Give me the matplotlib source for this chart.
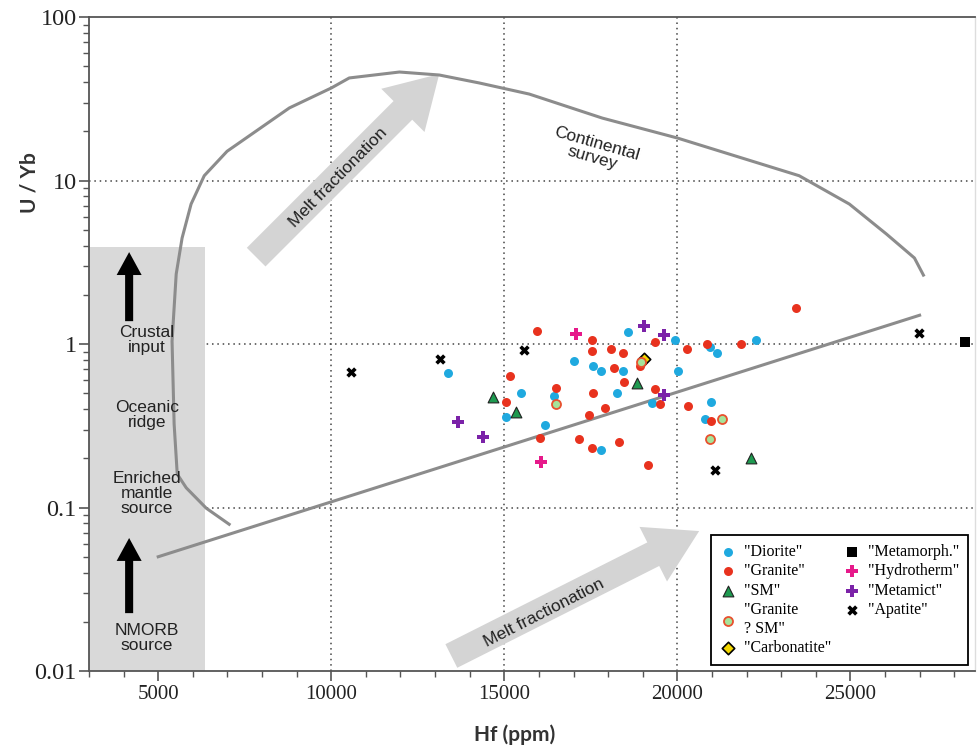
import numpy as np
import matplotlib
matplotlib.use('Agg')
import matplotlib.pyplot as plt
from matplotlib.ticker import MultipleLocator, LogLocator, NullFormatter, FixedLocator

# zircon groups, Hf (ppm) vs U/Yb
diorite_hf = [13380, 15490, 15060, 16190, 17020, 17570, 17800, 16450, 18270, 17780,
              18560, 18440, 19940, 20950, 21160, 22260, 20030, 19280, 20980, 20810]
diorite_u = [0.665, 0.501, 0.358, 0.320, 0.787, 0.734, 0.684, 0.481, 0.501, 0.225,
             1.184, 0.684, 1.058, 0.959, 0.881, 1.058, 0.684, 0.436, 0.442, 0.348]

granite_hf = [15950, 15170, 15060, 16040, 17520, 17520, 18090, 18180, 16500, 17570,
              17920, 17460, 17170, 17520, 18300, 18440, 19360, 20290, 20870, 21850,
              23440, 18930, 18470, 19340, 19510, 19160, 20320, 20980]
granite_u = [1.201, 0.637, 0.442, 0.266, 1.058, 0.906, 0.932, 0.713, 0.538, 0.501,
             0.406, 0.368, 0.262, 0.231, 0.252, 0.881, 1.028, 0.932, 1.0, 1.0,
             1.66, 0.734, 0.586, 0.531, 0.430, 0.182, 0.418, 0.338]

sm_hf = [14680, 15350, 18840, 22140]
sm_u = [0.474, 0.384, 0.577, 0.201]

gsm_hf = [16500, 18960, 21300, 20930]
gsm_u = [0.430, 0.776, 0.348, 0.262]

carb_hf = [19050]
carb_u = [0.810]

meta_hf = [28320]
meta_u = [1.03]

hydro_hf = [17080, 16070]
hydro_u = [1.151, 0.190]

metamict_hf = [13670, 14390, 19050, 19600, 19600]
metamict_u = [0.333, 0.270, 1.288, 1.135, 0.488]

apatite_hf = [10580, 13150, 15580, 21100, 26970]
apatite_u = [0.674, 0.810, 0.919, 0.170, 1.168]

# continental survey envelope
cs_hf = [7050, 6390, 5810, 5550, 5460, 5400, 5520, 5690, 5950, 6330, 6990, 8790, 10000,
         10520, 11970, 13120, 14280, 15720, 17830, 20000, 23520, 24970, 26040, 26850, 27110]
cs_u = [0.079, 0.099, 0.132, 0.160, 0.324, 1.04, 2.68, 4.45, 7.18, 10.7, 15.1, 27.8, 36.8,
        42.4, 46.1, 44.2, 39.5, 33.8, 24.1, 18.2, 10.7, 7.18, 4.71, 3.36, 2.64]

# straight trend line
trend_hf = [5000, 27000]
trend_u = [0.05, 1.5]

fig = plt.figure(figsize=(9.79, 7.47), dpi=100)
ax = fig.add_axes([0.0909, 0.1017, 0.905, 0.8755])
ax.set_yscale('log')
ax.set_xlim(3000, 28600)
ax.set_ylim(0.01, 100)

dark = '#555555'
curve_col = '#8c8c8c'
arrow_col = '#d4d4d4'

#dotted grid
for gx in [10000, 15000, 20000]:
    ax.axvline(gx, color='#444444', linestyle=(0, (1, 2.5)), linewidth=1.1, zorder=0)
for gy in [0.1, 1, 10]:
    ax.axhline(gy, color='#444444', linestyle=(0, (1, 2.5)), linewidth=1.1, zorder=0)

#gray source box
ax.fill_between([3000, 6360], 0.01, 3.9, color='#d9d9d9', linewidth=0, zorder=1)

ax.plot(cs_hf, cs_u, color=curve_col, linewidth=2.2, zorder=3)
ax.plot(trend_hf, trend_u, color=curve_col, linewidth=2.2, zorder=3)

#big melt fractionation arrows
big = dict(arrowstyle='simple,head_length=37,head_width=44,tail_width=19',
           color=arrow_col, mutation_scale=1, shrinkA=0, shrinkB=0, linewidth=0)
ax.annotate('', xy=(13120, 44.8), xytext=(7830, 3.40), arrowprops=big, zorder=2)
ax.annotate('', xy=(20630, 0.0718), xytext=(13470, 0.01236), arrowprops=big, zorder=2)

ax.text(10200, 10.36, 'Melt fractionation', rotation=45.5, ha='center', va='center',
        fontsize=12.5, family='Liberation Sans', color='#222222', zorder=5)
ax.text(16160, 0.0226, 'Melt fractionation', rotation=27, ha='center', va='center',
        fontsize=12.5, family='Liberation Sans', color='#222222', zorder=5)
ax.text(17600, 15.15, 'Continental\nsurvey', rotation=-16, ha='center', va='center',
        fontsize=12.5, family='Liberation Sans', color='#222222', linespacing=1.0, zorder=5)

#small black arrows in the box
small = dict(arrowstyle='simple,head_length=16.5,head_width=18,tail_width=5.8',
             color='black', mutation_scale=1, shrinkA=0, shrinkB=0, linewidth=0)
ax.annotate('', xy=(4160, 3.65), xytext=(4160, 1.38), arrowprops=small, zorder=4)
ax.annotate('', xy=(4160, 0.0651), xytext=(4160, 0.0226), arrowprops=small, zorder=4)

box_txt = dict(ha='center', va='center', fontsize=12.5, family='Liberation Sans',
               color='#222222', linespacing=1.0, zorder=5)
ax.text(4680, 1.058, 'Crustal\ninput', **box_txt)
ax.text(4680, 0.368, 'Oceanic\nridge', **box_txt)
ax.text(4680, 0.1227, 'Enriched\nmantle\nsource', **box_txt)
ax.text(4680, 0.0159, 'NMORB\nsource', **box_txt)

#scatter points
ax.scatter(diorite_hf, diorite_u, s=42, marker='o', color='#1fa9df', linewidths=0,
           label='"Diorite"', zorder=6)
ax.scatter(granite_hf, granite_u, s=42, marker='o', color='#e8321e', linewidths=0,
           label='"Granite"', zorder=6)
ax.scatter(sm_hf, sm_u, s=60, marker='^', facecolor='#1e9a50', edgecolor='#222222',
           linewidths=0.8, label='"SM"', zorder=6)
ax.scatter(carb_hf, carb_u, s=40, marker='D', facecolor='#f2d600', edgecolor='black',
           linewidths=1.2, label='"Carbonatite"', zorder=6)
ax.scatter(gsm_hf, gsm_u, s=42, marker='o', facecolor='#a6e39a', edgecolor='#e8502e',
           linewidths=1.3, label='"Granite\n? SM"', zorder=7)
ax.scatter(meta_hf, meta_u, s=55, marker='s', color='black', linewidths=0,
           label='"Metamorph."', zorder=6)
ax.scatter(hydro_hf, hydro_u, s=70, marker='P', color='#e6198a', linewidths=0,
           label='"Hydrotherm"', zorder=6)
ax.scatter(metamict_hf, metamict_u, s=70, marker='P', color='#7b22a8', linewidths=0,
           label='"Metamict"', zorder=6)
ax.scatter(apatite_hf, apatite_u, s=55, marker='X', color='black', linewidths=0,
           label='"Apatite"', zorder=6)

h, l = ax.get_legend_handles_labels()
order = [0, 1, 2, 4, 3, 5, 6, 7, 8]
leg = ax.legend([h[i] for i in order], [l[i] for i in order], ncol=2, loc='lower right',
                bbox_to_anchor=(0.992, 0.009), borderaxespad=0, fancybox=False,
                framealpha=1, edgecolor='black', prop={'family': 'Liberation Serif', 'size': 11.5},
                handletextpad=0.5, columnspacing=0.8, labelspacing=0.22, borderpad=0.55,
                handlelength=1.0)
leg.get_frame().set_linewidth(1.3)
leg.set_zorder(10)

#axes styling
for side in ['left', 'bottom', 'top']:
    ax.spines[side].set_color(dark)
    ax.spines[side].set_linewidth(1.3)
ax.spines['right'].set_color('#dddddd')
ax.spines['right'].set_linewidth(1.0)

ax.xaxis.set_major_locator(FixedLocator([5000, 10000, 15000, 20000, 25000]))
ax.xaxis.set_minor_locator(MultipleLocator(1000))
ax.yaxis.set_minor_locator(LogLocator(base=10, subs=np.arange(2, 10), numticks=10))
ax.yaxis.set_minor_formatter(NullFormatter())
ax.set_yticks([0.01, 0.1, 1, 10, 100])
ax.set_yticklabels(['0.01', '0.1', '1', '10', '100'])
ax.set_xticklabels(['5000', '10000', '15000', '20000', '25000'])

ax.tick_params(axis='both', which='major', direction='out', length=7, width=1.2,
               color=dark)
ax.tick_params(axis='both', which='minor', direction='out', length=4, width=1.0, color=dark)
ax.tick_params(axis='x', which='major', labelsize=15, pad=3)
ax.tick_params(axis='y', which='major', labelsize=17.5, pad=2)
for t in ax.get_xticklabels() + ax.get_yticklabels():
    t.set_family('Liberation Serif')
    t.set_color('#222222')

fig.text(515 / 979, 1 - 735 / 747, 'Hf (ppm)', ha='center', va='center', fontsize=15,
         family='Lato', weight='bold', color='#333333')
fig.text(30 / 979, 1 - 183 / 747, 'U / Yb', ha='center', va='center', rotation=90,
         fontsize=15, family='Lato', weight='bold', color='#333333')

plt.savefig('out.png', dpi=100)
